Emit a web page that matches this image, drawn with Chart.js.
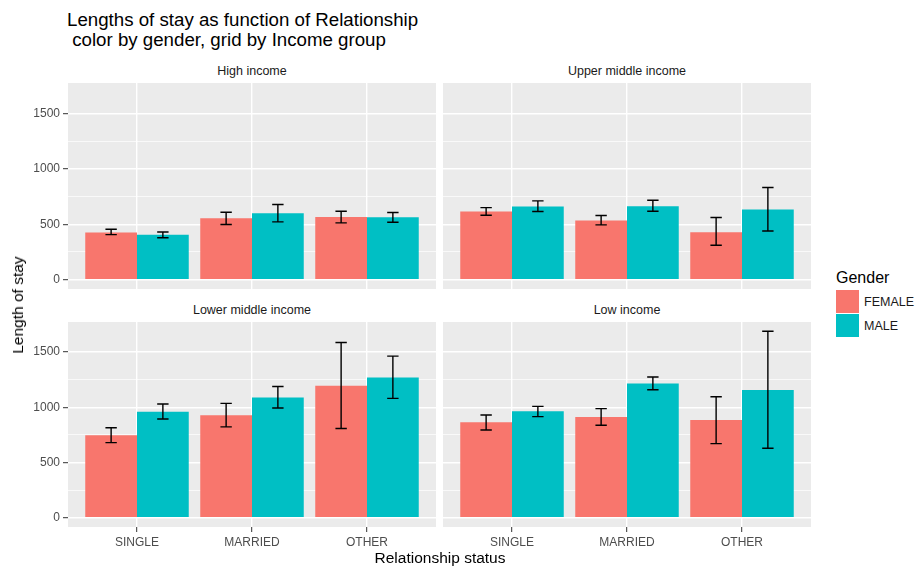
<!DOCTYPE html>
<html>
<head>
<meta charset="utf-8">
<script src="https://cdn.jsdelivr.net/npm/chart.js@4.4.0/dist/chart.umd.min.js"></script>
<style>
  body { margin: 0; background: #fff; font-family: "Liberation Sans", Arial, sans-serif; }
  #wrap { position: relative; width: 917px; height: 570px; overflow: hidden; }
  canvas { position: absolute; }
  .title { position: absolute; left: 67px; top: 10px; font-size: 18.7px; line-height: 20px; color: #000; white-space: pre; }
  .strip { position: absolute; width: 368px; height: 16px; line-height: 16px; text-align: center; font-size: 12.5px; color: #1a1a1a; }
  .axis-title { position: absolute; font-size: 15.5px; color: #000; white-space: nowrap; }
  .legend-title { position: absolute; left: 836px; top: 269px; font-size: 16px; line-height: 18px; }
  .key { position: absolute; left: 836px; width: 23px; height: 23px; }
  .key-label { position: absolute; left: 864px; font-size: 12.5px; line-height: 16px; color: #1a1a1a; }
</style>
</head>
<body>
<div id="wrap">
  <div class="title">Lengths of stay as function of Relationship
 color by gender, grid by Income group</div>

  <div class="strip" style="left:68px; top:63px;">High income</div>
  <div class="strip" style="left:443px; top:63px;">Upper middle income</div>
  <div class="strip" style="left:68px; top:302px;">Lower middle income</div>
  <div class="strip" style="left:443px; top:302px;">Low income</div>

  <canvas id="highIncome" width="436" height="206" style="left:0; top:83px;"></canvas>
  <canvas id="upperMiddle" width="368" height="206" style="left:443px; top:83px;"></canvas>
  <canvas id="lowerMiddle" width="436" height="228" style="left:0; top:322px;"></canvas>
  <canvas id="lowIncome" width="368" height="228" style="left:443px; top:322px;"></canvas>

  <div class="axis-title" style="left:18px; top:305px; transform: translate(-50%, -50%) rotate(-90deg);">Length of stay</div>
  <div class="axis-title" style="left:440px; top:558px; transform: translate(-50%, -50%);">Relationship status</div>

  <div class="legend-title">Gender</div>
  <div class="key" style="top:290px; background:#F8766D;"></div>
  <div class="key" style="top:314px; background:#00BFC4;"></div>
  <div class="key-label" style="top:294px;">FEMALE</div>
  <div class="key-label" style="top:318px;">MALE</div>
</div>

<script>
// categories and axis ticks
const categories = ['SINGLE', 'MARRIED', 'OTHER'];
const yGrid = [0, 250, 500, 750, 1000, 1250, 1500];
const yLabels = [0, 500, 1000, 1500];
const yMin = -84, yMax = 1773;
const xMin = 0.4, xMax = 3.6;

// High income
const highFemale = [425, 554, 566];
const highFemaleLo = [406, 497, 512];
const highFemaleHi = [454, 608, 617];
const highMale = [406, 599, 563];
const highMaleLo = [378, 521, 518];
const highMaleHi = [430, 678, 605];

// Upper middle income
const upperFemale = [614, 533, 427];
const upperFemaleLo = [581, 494, 310];
const upperFemaleHi = [650, 578, 560];
const upperMale = [659, 662, 632];
const upperMaleLo = [614, 617, 439];
const upperMaleHi = [710, 716, 831];

// Lower middle income
const lowerFemale = [746, 928, 1195];
const lowerFemaleLo = [680, 823, 808];
const lowerFemaleHi = [815, 1036, 1587];
const lowerMale = [961, 1090, 1270];
const lowerMaleLo = [895, 994, 1081];
const lowerMaleHi = [1030, 1189, 1464];

// Low income
const lowFemale = [865, 913, 886];
const lowFemaleLo = [794, 838, 671];
const lowFemaleHi = [931, 988, 1096];
const lowMale = [964, 1216, 1156];
const lowMaleLo = [916, 1159, 629];
const lowMaleHi = [1009, 1275, 1689];

const FONT = '"Liberation Sans", Arial, sans-serif';

// gray panel behind the grid
const panelBg = {
  id: 'panelBg',
  beforeDraw(chart) {
    const a = chart.chartArea;
    chart.ctx.save();
    chart.ctx.fillStyle = '#EBEBEB';
    chart.ctx.fillRect(a.left, a.top, a.right - a.left, a.bottom - a.top);
    chart.ctx.restore();
  }
};

// whiskers from the lo/hi arrays
const errorBars = {
  id: 'errorBars',
  afterDatasetsDraw(chart) {
    const ctx = chart.ctx;
    const y = chart.scales.y;
    ctx.save();
    ctx.strokeStyle = '#000';
    ctx.lineWidth = 1.4;
    chart.data.datasets.forEach((ds, i) => {
      chart.getDatasetMeta(i).data.forEach((bar, j) => {
        const top = y.getPixelForValue(ds.errHi[j]);
        const bot = y.getPixelForValue(ds.errLo[j]);
        const half = bar.width * 0.11;
        ctx.beginPath();
        ctx.moveTo(bar.x, top); ctx.lineTo(bar.x, bot);
        ctx.moveTo(bar.x - half, top); ctx.lineTo(bar.x + half, top);
        ctx.moveTo(bar.x - half, bot); ctx.lineTo(bar.x + half, bot);
        ctx.stroke();
      });
    });
    ctx.restore();
  }
};

function noPadding(s) {
  s.paddingLeft = 0; s.paddingRight = 0;
  s.paddingTop = 0; s.paddingBottom = 0;
}

function toPoints(values) {
  return values.map((v, i) => ({ x: i + 1, y: v }));
}

function makePanel(id, f, fLo, fHi, m, mLo, mHi, showY, showX) {
  const ctx = document.getElementById(id).getContext('2d');
  new Chart(ctx, {
    type: 'bar',
    data: {
      datasets: [{
        label: 'FEMALE',
        data: toPoints(f),
        errLo: fLo,
        errHi: fHi,
        backgroundColor: '#F8766D',
        borderWidth: 0,
        categoryPercentage: 0.9,
        barPercentage: 1.0
      }, {
        label: 'MALE',
        data: toPoints(m),
        errLo: mLo,
        errHi: mHi,
        backgroundColor: '#00BFC4',
        borderWidth: 0,
        categoryPercentage: 0.9,
        barPercentage: 1.0
      }]
    },
    options: {
      responsive: false,
      animation: false,
      layout: { padding: 0 },
      plugins: {
        legend: { display: false },
        tooltip: { enabled: false }
      },
      scales: {
        x: {
          type: 'linear',
          min: xMin,
          max: xMax,
          offset: false,
          afterBuildTicks: s => { s.ticks = categories.map((c, i) => ({ value: i + 1 })); },
          afterFit: s => { s.height = showX ? 23 : 0; noPadding(s); },
          ticks: {
            display: showX,
            autoSkip: false,
            maxRotation: 0,
            padding: 3,
            color: '#4D4D4D',
            font: { family: FONT, size: 12 },
            callback: v => categories[v - 1]
          },
          grid: {
            offset: false,
            color: '#fff',
            lineWidth: 1.4,
            drawTicks: showX,
            tickLength: 5,
            tickColor: '#333',
            tickWidth: 1
          },
          border: { display: false }
        },
        y: {
          min: yMin,
          max: yMax,
          afterBuildTicks: s => { s.ticks = yGrid.map(v => ({ value: v })); },
          afterFit: s => { s.width = showY ? 68 : 0; noPadding(s); },
          ticks: {
            display: showY,
            padding: 3,
            color: '#4D4D4D',
            font: { family: FONT, size: 12 },
            callback: v => yLabels.includes(v) ? String(v) : ''
          },
          grid: {
            color: '#fff',
            lineWidth: c => yLabels.includes(c.tick.value) ? 1.4 : 0.7,
            drawTicks: showY,
            tickLength: 5,
            tickWidth: 1,
            tickColor: c => yLabels.includes(c.tick.value) ? '#333' : 'rgba(0,0,0,0)'
          },
          border: { display: false }
        }
      }
    },
    plugins: [panelBg, errorBars]
  });
}

makePanel('highIncome', highFemale, highFemaleLo, highFemaleHi, highMale, highMaleLo, highMaleHi, true, false);
makePanel('upperMiddle', upperFemale, upperFemaleLo, upperFemaleHi, upperMale, upperMaleLo, upperMaleHi, false, false);
makePanel('lowerMiddle', lowerFemale, lowerFemaleLo, lowerFemaleHi, lowerMale, lowerMaleLo, lowerMaleHi, true, true);
makePanel('lowIncome', lowFemale, lowFemaleLo, lowFemaleHi, lowMale, lowMaleLo, lowMaleHi, false, true);
</script>
</body>
</html>
